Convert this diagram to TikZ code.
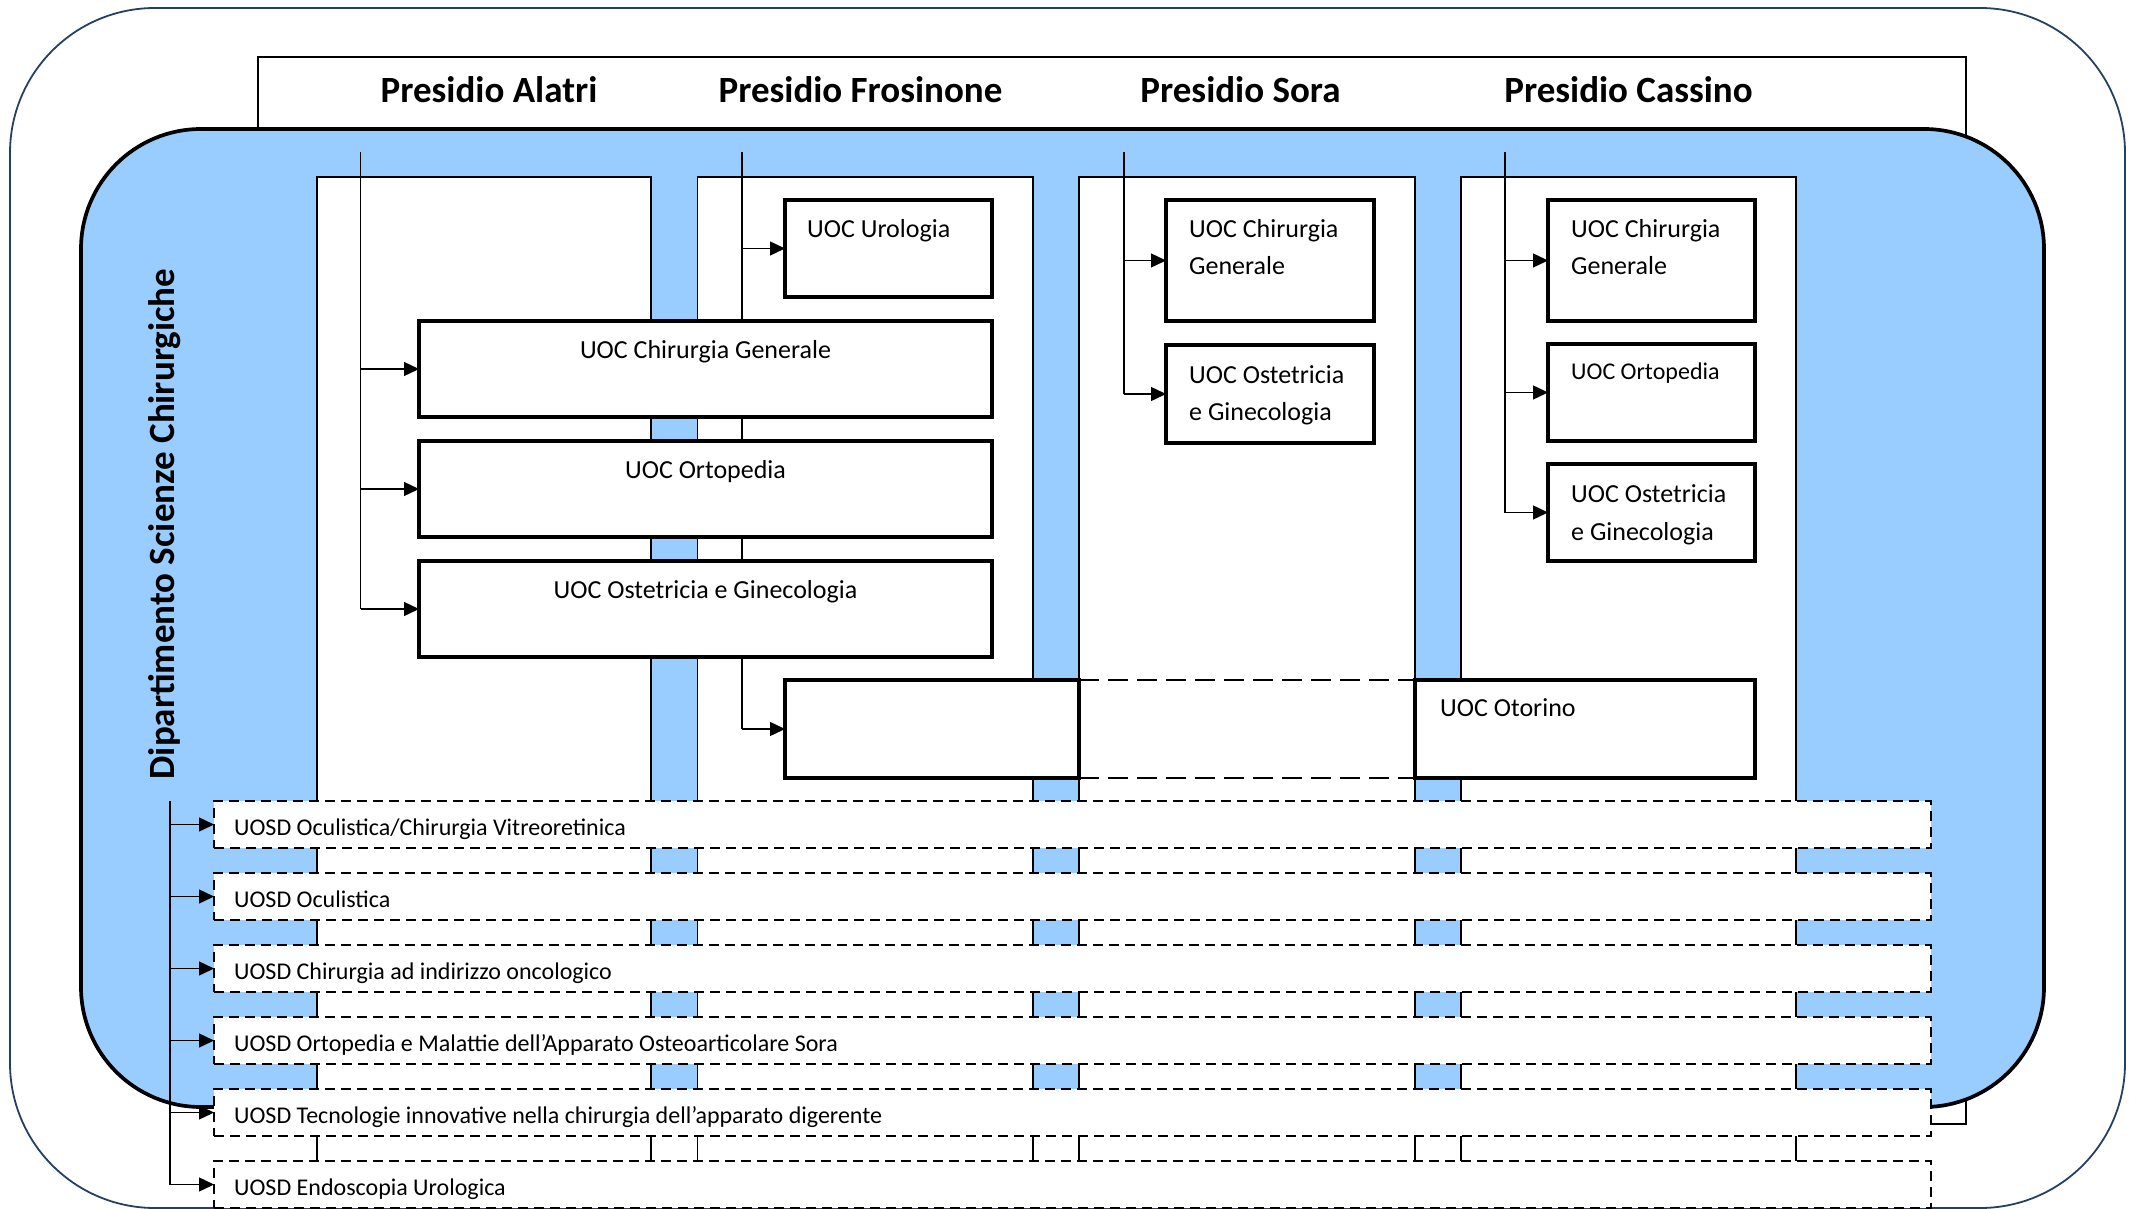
\documentclass[tikz,border=0pt]{standalone}
\usepackage{fontspec}
\setmainfont{Carlito}
\usetikzlibrary{arrows.meta}
\definecolor{deptblue}{RGB}{153,204,255}
\definecolor{navyline}{RGB}{37,64,97}
\pgfdeclarelayer{back}
\pgfdeclarelayer{conn}
\pgfsetlayers{back,conn,main}
\begin{document}
\begin{tikzpicture}[x=1pt,y=-1pt,
  thinl/.style={line width=1.4pt},
  uoc/.style={draw, line width=3.7pt, fill=white, inner sep=0pt, outer sep=0pt, anchor=north west},
  colbox/.style={draw, line width=1.4pt, fill=white, inner sep=0pt, outer sep=0pt, anchor=north west},
  uosd/.style={draw, line width=2pt, dash pattern=on 10pt off 6pt, fill=white, inner sep=0pt, outer sep=0pt, anchor=north west, minimum width=1717pt, minimum height=47pt},
  otodash/.style={line width=2.7pt, dash pattern=on 20pt off 9pt},
  arr/.style={line width=1.4pt, -{Triangle[length=15pt,width=14pt]}},
  hdr/.style={font=\fontsize{37}{44}\selectfont\bfseries, anchor=base, inner sep=0pt},
  lab/.style={font=\fontsize{26}{31}\selectfont, anchor=base west, inner sep=0pt},
  labc/.style={font=\fontsize{26}{31}\selectfont, anchor=base, inner sep=0pt},
  slab/.style={font=\fontsize{24}{29}\selectfont, anchor=base west, inner sep=0pt},
  ulab/.style={font=\fontsize{24}{29}\selectfont, anchor=base west, inner sep=0pt}
]
\useasboundingbox (0,0) rectangle (2129,1209);

\begin{pgfonlayer}{back}
  % outer frame
  \draw[navyline, line width=1.8pt, rounded corners=145pt] (10,8) rectangle (2125,1208);
  % header box
  \node[colbox, minimum width=1708pt, minimum height=1067pt] (hdrbox) at (258,57) {};
  % department area
  \draw[fill=deptblue, line width=3.7pt, rounded corners=120pt] (81,129) rectangle (2044,1107);
  % columns
  \node[colbox, minimum width=334pt, minimum height=1013pt] (col-al) at (317,177) {};
  \node[colbox, minimum width=335.5pt, minimum height=1013pt] (col-fr) at (697.5,177) {};
  \node[colbox, minimum width=336pt, minimum height=1013pt] (col-so) at (1079,177) {};
  \node[colbox, minimum width=335pt, minimum height=1013pt] (col-ca) at (1461,177) {};
\end{pgfonlayer}

% headers
\node[hdr] (h-al) at (489,102.6) {Presidio Alatri};
\node[hdr] (h-fr) at (860.5,102.6) {Presidio Frosinone};
\node[hdr] (h-so) at (1240.5,102.6) {Presidio Sora};
\node[hdr] (h-ca) at (1628.5,102.6) {Presidio Cassino};

% trunk tops
\coordinate (t-al) at (360.5,152);
\coordinate (t-fr) at (742,152);
\coordinate (t-so) at (1124,152);
\coordinate (t-ca) at (1505,152);
\coordinate (t-u) at (170,801);

% UOC boxes
\node[uoc, minimum width=207pt, minimum height=97pt] (fr-uro) at (785,200) {};
\node[uoc, minimum width=573pt, minimum height=96pt] (al-chg) at (419,321) {};
\node[uoc, minimum width=573pt, minimum height=96pt] (al-ort) at (419,441) {};
\node[uoc, minimum width=573pt, minimum height=96pt] (al-ost) at (419,561) {};
\node[uoc, minimum width=294pt, minimum height=98pt] (fr-oto) at (785,680) {};
\node[uoc, minimum width=340pt, minimum height=98pt] (oto) at (1415,680) {};
\node[uoc, minimum width=208pt, minimum height=121pt] (so-chg) at (1166,200) {};
\node[uoc, minimum width=208pt, minimum height=98pt] (so-ost) at (1166,345) {};
\node[uoc, minimum width=207pt, minimum height=121pt] (ca-chg) at (1548,200) {};
\node[uoc, minimum width=207pt, minimum height=97pt] (ca-ort) at (1548,344) {};
\node[uoc, minimum width=207pt, minimum height=97pt] (ca-ost) at (1548,464) {};

\draw[otodash] (fr-oto.north east) -- (oto.north west);
\draw[otodash] (fr-oto.south east) -- (oto.south west);

% UOC labels
\node[lab] (l-uro) at (807,238) {UOC Urologia};
\node[labc] (l-alchg) at (705.5,358) {UOC Chirurgia Generale};
\node[labc] (l-alort) at (705.5,478) {UOC Ortopedia};
\node[labc] (l-alost) at (705.5,598.5) {UOC Ostetricia e Ginecologia};
\node[lab] (l-soc1) at (1189,238) {UOC Chirurgia};
\node[lab] (l-soc2) at (1189,275) {Generale};
\node[lab] (l-soo1) at (1189,383) {UOC Ostetricia};
\node[lab] (l-soo2) at (1189,420) {e Ginecologia};
\node[lab] (l-cac1) at (1571,238) {UOC Chirurgia};
\node[lab] (l-cac2) at (1571,275) {Generale};
\node[slab] (l-caort) at (1571,379) {UOC Ortopedia};
\node[lab] (l-cao1) at (1571,502) {UOC Ostetricia};
\node[lab] (l-cao2) at (1571,540) {e Ginecologia};
\node[lab] (l-oto) at (1440,716.5) {UOC Otorino};

% UOSD boxes
\node[uosd] (u1) at (214,801) {};
\node[uosd] (u2) at (214,873) {};
\node[uosd] (u3) at (214,945) {};
\node[uosd] (u4) at (214,1017) {};
\node[uosd] (u5) at (214,1089) {};
\node[uosd] (u6) at (214,1161) {};
\node[ulab] (lu1) at (234,835) {UOSD Oculistica/Chirurgia Vitreoretinica};
\node[ulab] (lu2) at (234,907) {UOSD Oculistica};
\node[ulab] (lu3) at (234,979) {UOSD Chirurgia ad indirizzo oncologico};
\node[ulab] (lu4) at (234,1051) {UOSD Ortopedia e Malattie dell’Apparato Osteoarticolare Sora};
\node[ulab] (lu5) at (234,1123) {UOSD Tecnologie innovative nella chirurgia dell’apparato digerente};
\node[ulab] (lu6) at (234,1195) {UOSD Endoscopia Urologica};

% connectors
\begin{pgfonlayer}{conn}
  \draw[thinl] (t-al) -- (t-al |- al-ost.west);
  \foreach \b in {al-chg,al-ort,al-ost} \draw[arr] (t-al |- \b.west) -- (\b.west);
  \draw[thinl] (t-fr) -- (t-fr |- fr-oto.west);
  \foreach \b in {fr-uro,fr-oto} \draw[arr] (t-fr |- \b.west) -- (\b.west);
  \draw[thinl] (t-so) -- (t-so |- so-ost.west);
  \foreach \b in {so-chg,so-ost} \draw[arr] (t-so |- \b.west) -- (\b.west);
  \draw[thinl] (t-ca) -- (t-ca |- ca-ost.west);
  \foreach \b in {ca-chg,ca-ort,ca-ost} \draw[arr] (t-ca |- \b.west) -- (\b.west);
\end{pgfonlayer}
\draw[thinl] (t-u) -- (t-u |- u6.west);
\foreach \b in {u1,u2,u3,u4,u5,u6} \draw[arr] (t-u |- \b.west) -- (\b.west);

% department label
\node[rotate=90, anchor=base, inner sep=0pt, font=\fontsize{37}{44}\selectfont\bfseries] (dept) at (174,524) {Dipartimento Scienze Chirurgiche};
\end{tikzpicture}
\end{document}
